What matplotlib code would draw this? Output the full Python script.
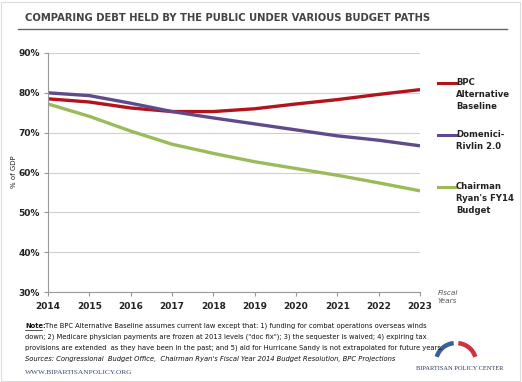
import matplotlib
matplotlib.use("Agg")
import matplotlib.pyplot as plt
from matplotlib.patches import Arc, Rectangle
from matplotlib.lines import Line2D

years = [2014, 2015, 2016, 2017, 2018, 2019, 2020, 2021, 2022, 2023]
bpc_alt = [78.5, 77.7, 76.2, 75.3, 75.3, 76.0, 77.2, 78.3, 79.6, 80.8]
domenici = [80.0, 79.3, 77.4, 75.3, 73.7, 72.2, 70.7, 69.2, 68.1, 66.7]
ryan = [77.2, 74.1, 70.4, 67.1, 64.8, 62.7, 61.0, 59.3, 57.4, 55.4]
series_names = ["BPC\nAlternative\nBaseline", "Domenici-\nRivlin 2.0", "Chairman\nRyan's FY14\nBudget"]
yticks = [30, 40, 50, 60, 70, 80, 90]

colors = ["#B3141C", "#5F4B8B", "#9BBB59"]
W, H = 522, 382
fig = plt.figure(figsize=(W / 100, H / 100), dpi=100)
fig.patch.set_facecolor("white")

def fx(px):
    return px / W

def fy(py):
    return 1 - py / H

# border
fig.add_artist(Rectangle((0.002, 0.002), 0.994, 0.994, transform=fig.transFigure,
                         fill=False, edgecolor="#dddddd", linewidth=0.8))

# title
fig.text(fx(25), fy(18), "COMPARING DEBT HELD BY THE PUBLIC UNDER VARIOUS BUDGET PATHS",
         fontsize=7.2, fontweight="bold", color="#444444", va="center", ha="left",
         family="DejaVu Sans")
fig.add_artist(Line2D([fx(18), fx(507)], [fy(29), fy(29)], transform=fig.transFigure,
                      color="#666666", linewidth=1.0))

ax = fig.add_axes([fx(48), fy(292), fx(420) - fx(48), fy(53) - fy(292)])
for vals, c in zip([bpc_alt, domenici, ryan], colors):
    ax.plot(years, vals, color=c, linewidth=2.4, solid_capstyle="butt")

ax.set_xlim(2014, 2023)
ax.set_ylim(30, 90)
ax.set_yticks(yticks)
ax.set_yticklabels([f"{v}%" for v in yticks])
ax.set_xticks(years)
ax.set_xticklabels([str(y) for y in years])
ax.grid(axis="y", color="#d0d0d0", linewidth=0.8)
ax.set_axisbelow(True)
for s in ["top", "right"]:
    ax.spines[s].set_visible(False)
ax.spines["left"].set_color("#999999")
ax.spines["bottom"].set_color("#999999")
ax.tick_params(axis="both", labelsize=6.5, colors="#999999", length=3, width=0.8)
for lab in ax.get_xticklabels() + ax.get_yticklabels():
    lab.set_fontweight("bold")
    lab.set_color("#222222")
ax.tick_params(axis="y", length=3, pad=3)
ax.tick_params(axis="x", pad=4)
fig.text(fx(14), fy(172), "% of GDP", fontsize=5, color="#222222", rotation=90,
         va="center", ha="center")

fig.text(fx(438), fy(297), "Fiscal\nYears", fontsize=5.2, style="italic", color="#555555",
         va="center", ha="left", linespacing=1.5)

# legend
leg_y = [83, 135, 187]
for name, c, yy in zip(series_names, colors, leg_y):
    fig.add_artist(Line2D([fx(438), fx(456)], [fy(yy), fy(yy)], transform=fig.transFigure,
                          color=c, linewidth=2.2))
    fig.text(fx(456), fy(yy - 5), name, fontsize=6.1, fontweight="bold", color="#222222",
             va="top", ha="left", linespacing=1.45)

# note
note_lines = [
    "The BPC Alternative Baseline assumes current law except that: 1) funding for combat operations overseas winds",
    "down; 2) Medicare physician payments are frozen at 2013 levels (\"doc fix\"); 3) the sequester is waived; 4) expiring tax",
    "provisions are extended  as they have been in the past; and 5) aid for Hurricane Sandy is not extrapolated for future years.",
]
fs_note = 4.9
fig.text(fx(25), fy(326), "Note:", fontsize=fs_note, fontweight="bold", color="#111111",
         va="center", ha="left")
fig.add_artist(Line2D([fx(25), fx(42)], [fy(330), fy(330)], transform=fig.transFigure,
                      color="#111111", linewidth=0.5))
fig.text(fx(45), fy(326), note_lines[0], fontsize=fs_note, color="#111111", va="center", ha="left")
fig.text(fx(25), fy(337), note_lines[1], fontsize=fs_note, color="#111111", va="center", ha="left")
fig.text(fx(25), fy(348), note_lines[2], fontsize=fs_note, color="#111111", va="center", ha="left")
fig.text(fx(25), fy(359),
         "Sources: Congressional  Budget Office,  Chairman Ryan's Fiscal Year 2014 Budget Resolution, BPC Projections",
         fontsize=fs_note, style="italic", color="#111111", va="center", ha="left")

fig.text(fx(25), fy(372), "WWW.BIPARTISANPOLICY.ORG", fontsize=5.3, family="Liberation Serif",
         color="#3a4a6a", va="center", ha="left")
fig.text(fx(503), fy(369), "BIPARTISAN POLICY CENTER", fontsize=4.6, family="Liberation Serif",
         color="#2a3a5a", va="center", ha="right")

# logo arcs
lax = fig.add_axes([fx(430), fy(362), fx(52), fy(340) - fy(362)])
lax.set_xlim(0, 52)
lax.set_ylim(0, 22)
lax.axis("off")
lax.add_patch(Arc((26, 0), 40, 38, theta1=97, theta2=165, color="#3a5f9a", linewidth=3.2))
lax.add_patch(Arc((26, 0), 40, 38, theta1=15, theta2=83, color="#d2303c", linewidth=3.2))

fig.savefig("out.png", dpi=100, facecolor="white")
